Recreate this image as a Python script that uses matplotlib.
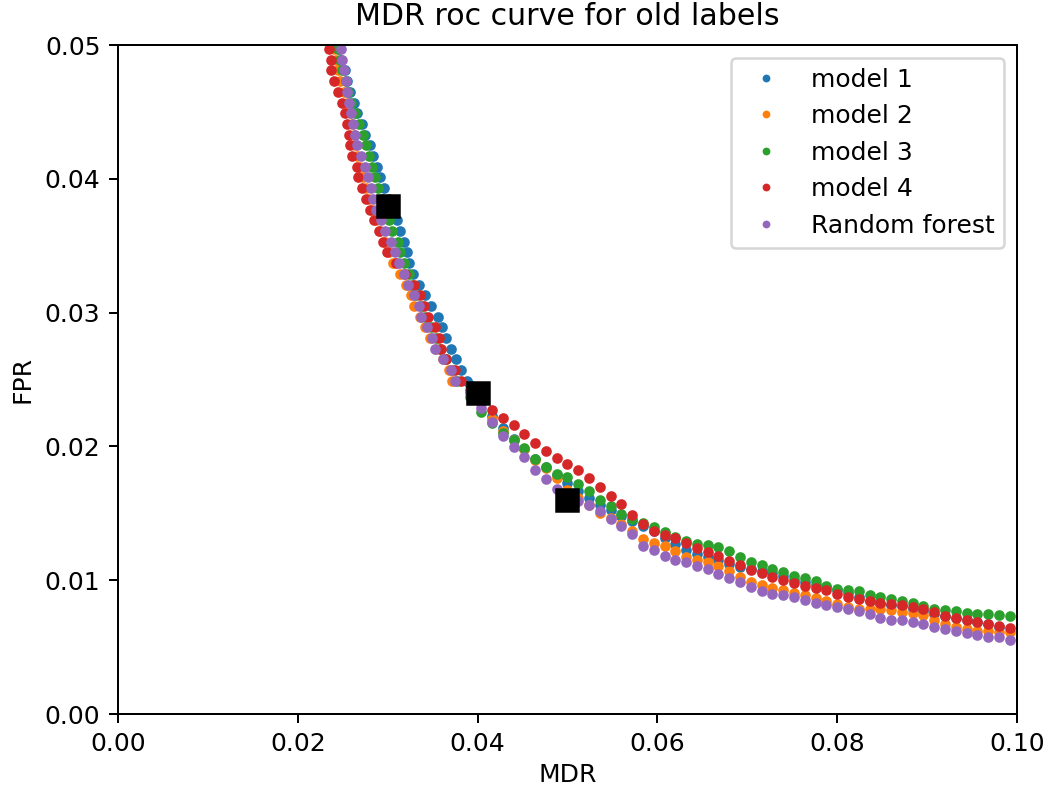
import matplotlib
matplotlib.use('Agg')
import matplotlib.pyplot as plt
import numpy as np

# steep part of the curves: FPR levels, MDR read for each model
steep_fpr = [0.0505, 0.0497, 0.0489, 0.0481, 0.0473, 0.0465, 0.0457, 0.0449, 0.0441,
             0.0433, 0.0425, 0.0417, 0.0409, 0.0401, 0.0393, 0.0385, 0.0377, 0.0369,
             0.0361, 0.0353, 0.0345, 0.0337, 0.0329, 0.0321, 0.0313, 0.0305, 0.0297,
             0.0289, 0.0281, 0.0273, 0.0265, 0.0257, 0.0249]

m1_steep_mdr = [0.02436, 0.02464, 0.02486, 0.0252, 0.02553, 0.02586, 0.02625, 0.02664, 0.02709,
                0.02753, 0.02798, 0.02842, 0.02881, 0.02914, 0.02964, 0.03014, 0.0307, 0.03109,
                0.03142, 0.03181, 0.03215, 0.03242, 0.03287, 0.03348, 0.03415, 0.03482, 0.0356,
                0.03604, 0.03654, 0.03704, 0.0376, 0.03821, 0.03882]
m2_steep_mdr = [0.02369, 0.02403, 0.02425, 0.02442, 0.02475, 0.02514, 0.02547, 0.02581, 0.02603,
                0.0262, 0.02631, 0.02659, 0.02692, 0.02725, 0.02759, 0.02792, 0.02831, 0.0287,
                0.02914, 0.0297, 0.03014, 0.03059, 0.03137, 0.03209, 0.03254, 0.03298, 0.03359,
                0.03415, 0.03476, 0.03537, 0.03615, 0.03682, 0.03721]
m3_steep_mdr = [0.02414, 0.02447, 0.02469, 0.02497, 0.02531, 0.02564, 0.02597, 0.02636, 0.02681,
                0.02725, 0.02764, 0.02792, 0.02831, 0.02859, 0.02892, 0.02937, 0.02981, 0.03014,
                0.03053, 0.0312, 0.03142, 0.03181, 0.03237, 0.0327, 0.0332, 0.0337, 0.03415,
                0.03482, 0.03543, 0.03582, 0.03648, 0.03715, 0.03771]
m4_steep_mdr = [0.0233, 0.02347, 0.02364, 0.02375, 0.02408, 0.02447, 0.02492, 0.02525, 0.02547,
                0.0257, 0.02581, 0.02603, 0.02659, 0.02675, 0.02714, 0.02759, 0.02803, 0.02848,
                0.02903, 0.02948, 0.02992, 0.03092, 0.03192, 0.03293, 0.03359, 0.03404, 0.03454,
                0.03526, 0.03571, 0.03598, 0.03648, 0.03749, 0.03815]
rf_steep_mdr = [0.02458, 0.02481, 0.02497, 0.02514, 0.02531, 0.02547, 0.02575, 0.02597, 0.02614,
                0.02636, 0.02664, 0.02703, 0.02747, 0.02781, 0.02809, 0.02837, 0.02875, 0.02925,
                0.0297, 0.03042, 0.03076, 0.03126, 0.03181, 0.03231, 0.03298, 0.03348, 0.03376,
                0.03437, 0.03493, 0.03526, 0.03615, 0.03704, 0.03749]

# flat part of the curves: MDR levels, FPR read for each model
tail_mdr = [0.0392, 0.0404, 0.0416, 0.0428, 0.044, 0.0452, 0.0464, 0.0476, 0.0488, 0.05,
            0.0512, 0.0524, 0.0536, 0.0548, 0.056, 0.0572, 0.0584, 0.0596, 0.0608, 0.062,
            0.0632, 0.0644, 0.0656, 0.0668, 0.068, 0.0692, 0.0704, 0.0716, 0.0728, 0.074,
            0.0752, 0.0764, 0.0776, 0.0788, 0.08, 0.0812, 0.0824, 0.0836, 0.0848, 0.086,
            0.0872, 0.0884, 0.0896, 0.0908, 0.092, 0.0932, 0.0944, 0.0956, 0.0968, 0.098,
            0.0992, 0.1004]

m1_tail_fpr = [0.02459, 0.02347, 0.02227, 0.02138, 0.02055, 0.01981, 0.01906, 0.01846, 0.01786,
               0.01726, 0.01667, 0.01614, 0.01562, 0.01525, 0.0148, 0.01442, 0.01405, 0.01368,
               0.01315, 0.01271, 0.01226, 0.01196, 0.01173, 0.01151, 0.01121, 0.01102, 0.01084,
               0.01069, 0.01054, 0.01028, 0.01005, 0.00987, 0.00968, 0.00949, 0.00927, 0.00904,
               0.00874, 0.00845, 0.00826, 0.00815, 0.00807, 0.00788, 0.0077, 0.00747, 0.00732,
               0.00721, 0.00706, 0.00688, 0.00676, 0.00654]
m2_tail_fpr = [0.02399, 0.02324, 0.02205, 0.02115, 0.02048, 0.01981, 0.01898, 0.01839, 0.01764,
               0.01674, 0.01614, 0.01562, 0.01502, 0.01465, 0.0142, 0.01368, 0.01308, 0.01278,
               0.01256, 0.01218, 0.01173, 0.01151, 0.01136, 0.01106, 0.01069, 0.01024, 0.00987,
               0.00964, 0.00942, 0.00927, 0.00904, 0.00886, 0.00867, 0.00845, 0.00826, 0.008,
               0.00788, 0.00788, 0.00785, 0.00777, 0.00766, 0.00755, 0.0074, 0.00703, 0.00673,
               0.00654, 0.00635, 0.00624, 0.00617, 0.00613, 0.00613]
m3_tail_fpr = [0.02369, 0.02257, 0.02175, 0.021, 0.02048, 0.01988, 0.01906, 0.01846, 0.01794,
               0.01771, 0.01719, 0.01667, 0.01599, 0.01555, 0.01495, 0.01457, 0.01427, 0.01398,
               0.0136, 0.01323, 0.01293, 0.01274, 0.01263, 0.01248, 0.01218, 0.01173, 0.01136,
               0.01114, 0.01087, 0.01061, 0.01031, 0.01013, 0.00994, 0.00957, 0.00934, 0.00927,
               0.00923, 0.00889, 0.00874, 0.00859, 0.00848, 0.0083, 0.00811, 0.00788, 0.00777,
               0.0077, 0.00755, 0.00747, 0.00744, 0.0074, 0.00732, 0.00725]
m4_tail_fpr = [0.02422, 0.02347, 0.02272, 0.02212, 0.0216, 0.02093, 0.02025, 0.01966, 0.01913,
               0.01868, 0.01824, 0.01764, 0.01697, 0.0163, 0.0157, 0.01487, 0.0142, 0.01368,
               0.01338, 0.01315, 0.01278, 0.01241, 0.01211, 0.01181, 0.01144, 0.01114, 0.01076,
               0.01054, 0.01024, 0.01001, 0.00979, 0.00957, 0.00942, 0.00927, 0.00897, 0.00871,
               0.00859, 0.00848, 0.00833, 0.00826, 0.00815, 0.008, 0.00785, 0.00759, 0.00729,
               0.00717, 0.00703, 0.00691, 0.00676, 0.00661, 0.00643]
rf_tail_fpr = [0.02407, 0.02287, 0.02182, 0.02078, 0.01996, 0.01921, 0.01824, 0.01756, 0.01682,
               0.01622, 0.01592, 0.01562, 0.01517, 0.01457, 0.01405, 0.01345, 0.01256, 0.01226,
               0.01181, 0.01151, 0.01136, 0.01106, 0.01084, 0.01046, 0.01016, 0.00987, 0.00949,
               0.00919, 0.00897, 0.00889, 0.00874, 0.00852, 0.0083, 0.00815, 0.00802, 0.00788,
               0.0077, 0.00747, 0.00717, 0.00706, 0.00703, 0.00691, 0.00673, 0.0065, 0.00635,
               0.00617, 0.00605, 0.0059, 0.00579, 0.00572, 0.00553, 0.00534]

labels = ['model 1', 'model 2', 'model 3', 'model 4', 'Random forest']
steep = [m1_steep_mdr, m2_steep_mdr, m3_steep_mdr, m4_steep_mdr, rf_steep_mdr]
tails = [m1_tail_fpr, m2_tail_fpr, m3_tail_fpr, m4_tail_fpr, rf_tail_fpr]

# operating points
op_mdr = [0.03, 0.04, 0.05]
op_fpr = [0.038, 0.024, 0.016]

DPI = 180
fig = plt.figure(figsize=(1047 / DPI, 791 / DPI), dpi=DPI)
ax = fig.add_subplot(111)
fig.subplots_adjust(left=0.1127, right=0.9713, top=0.9431, bottom=0.0973)

for lab, s_mdr, t_fpr in zip(labels, steep, tails):
    mdr = np.concatenate([s_mdr, tail_mdr[:len(t_fpr)]])
    fpr = np.concatenate([steep_fpr, t_fpr])
    ax.plot(mdr, fpr, '.', markersize=6.5, label=lab)

ax.plot(op_mdr, op_fpr, 's', color='k', markersize=9)

ax.set_xlim(0, 0.1)
ax.set_ylim(0, 0.05)
ax.set_xlabel('MDR', labelpad=3)
ax.set_ylabel('FPR')
ax.set_title('MDR roc curve for old labels', pad=8)
ax.legend(loc='upper right', markerscale=0.65)

fig.savefig('out.png', dpi=DPI)
